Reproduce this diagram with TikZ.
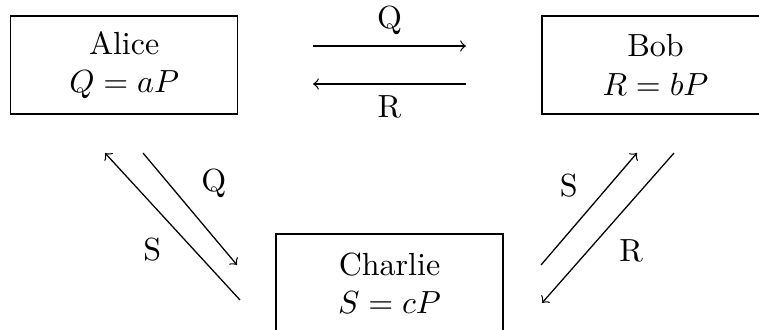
\documentclass[tikz,border=0pt]{standalone}
\usepackage{amsmath}
\usepackage{tikz}
\usetikzlibrary{positioning,calc}

\begin{document}
\begin{tikzpicture}[
    x=0.3125pt, y=0.3125pt,
    party/.style={draw, rectangle, minimum width=71pt, minimum height=30.6pt,
        align=center},
    arrow/.style={->},
]

% Frame
\clip (0,0) rectangle (759,329);

% Parties
\node[party] (alice) at (124.2, 264) {Alice\\$Q = aP$};
\node[party] (bob) at (655.5, 264) {Bob\\$R = bP$};
\node[party] (charlie) at (389.5, 46) {Charlie\\$S = cP$};

% Arrow ends
\coordinate (abq1) at (313, 283);
\coordinate (abq2) at (466, 283);
\coordinate (bar1) at (466, 245);
\coordinate (bar2) at (313, 245);
\coordinate (cas1) at (240, 29);
\coordinate (cas2) at (105, 176);
\coordinate (acq1) at (143, 176);
\coordinate (acq2) at (237, 64);
\coordinate (cbs1) at (541, 64);
\coordinate (cbs2) at (637, 176);
\coordinate (bcr1) at (674, 176);
\coordinate (bcr2) at (542, 26);

% Arrows
\draw[arrow] (abq1) -- (abq2) node[midway, above] (lq1) {Q};
\draw[arrow] (bar1) -- (bar2) node[midway, below] (lr1) {R};
\draw[arrow] (cas1) -- (cas2) node[midway, below left] (ls1) {S};
\draw[arrow] (acq1) -- (acq2) node[midway, above right] (lq2) {Q};
\draw[arrow] (cbs1) -- (cbs2) node[midway, above left] (ls2) {S};
\draw[arrow] (bcr1) -- (bcr2) node[midway, below right] (lr2) {R};

\end{tikzpicture}
\end{document}
